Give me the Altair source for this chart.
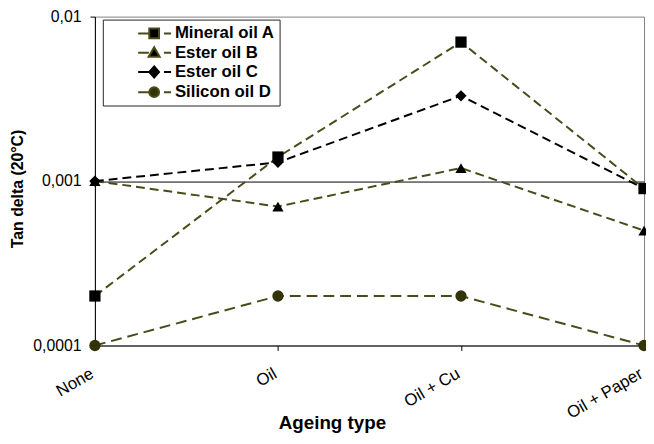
import altair as alt
import pandas as pd

ageing = ["None", "Oil", "Oil + Cu", "Oil + Paper"]
series_names = ["Mineral oil A", "Ester oil B", "Ester oil C", "Silicon oil D"]
mineral_a = [0.0002, 0.0014, 0.007, 0.0009]
ester_b = [0.001, 0.0007, 0.0012, 0.0005]
ester_c = [0.001, 0.0013, 0.0033, 0.0009]
silicon_d = [0.0001, 0.0002, 0.0002, 0.0001]
y_ticks = [0.0001, 0.001, 0.01]

line_colors = ["#4a4a1a", "#4a4a1a", "#000000", "#4a4a1a"]
marker_fills = ["#000000", "#000000", "#000000", "#33330a"]
marker_shapes = ["square", "triangle-up", "diamond", "circle"]
dashes = [[9, 5], [9, 5], [9, 5], [11, 6]]

# legend symbols: line segment, marker, short dash
lead = "M-1.8,0H-0.6M1.1,0H1.9"
legend_paths = [
    lead + "M-0.55,-0.55H0.55V0.55H-0.55Z",
    lead + "M0,-0.62L0.62,0.45H-0.62Z",
    lead + "M0,-0.62L0.55,0L0,0.62L-0.55,0Z",
    lead + "M0.55,0A0.55,0.55,0,1,1,-0.55,0A0.55,0.55,0,1,1,0.55,0Z",
]

rows = []
for name, vals in zip(series_names, [mineral_a, ester_b, ester_c, silicon_d]):
    for a, v in zip(ageing, vals):
        rows.append({"series": name, "ageing": a, "value": v})
df = pd.DataFrame(rows)

FONT = "Liberation Sans"

x_enc = alt.X(
    "ageing:N",
    sort=ageing,
    scale=alt.Scale(type="point", padding=0),
    axis=alt.Axis(
        title="Ageing type",
        titleFontSize=19,
        titleFontWeight="bold",
        titleX=240,
        titleY=84,
        titleBaseline="alphabetic",
        titleAlign="center",
        labelAngle=330,
        labelAlign="right",
        labelBaseline="top",
        labelPadding=15,
        labelOffset=-7,
        labelFontSize=17,
        tickSize=5,
        grid=False,
    ),
)
y_enc = alt.Y(
    "value:Q",
    scale=alt.Scale(type="log", domain=[0.0001, 0.01]),
    axis=alt.Axis(
        values=y_ticks,
        labelExpr="replace(toString(datum.value), '.', ',')",
        title="Tan delta (20°C)",
        titleFontSize=16,
        titleFontWeight="bold",
        titleX=-78,
        titleY=174,
        titleAngle=270,
        titleBaseline="middle",
        titleAlign="center",
        labelFontSize=16,
        labelPadding=9,
        tickSize=5,
        grid=True,
        gridColor={"condition": {"test": "datum.value > 0.0005 && datum.value < 0.005", "value": "#000000"}, "value": "transparent"},
    ),
)

base = alt.Chart(df)

lines = base.mark_line(strokeWidth=2).encode(
    x=x_enc,
    y=y_enc,
    color=alt.Color("series:N", scale=alt.Scale(domain=series_names, range=line_colors), legend=None),
    strokeDash=alt.StrokeDash("series:N", scale=alt.Scale(domain=series_names, range=dashes), legend=None),
)

points = base.mark_point(filled=True, size=130, opacity=1).encode(
    x=x_enc,
    y=y_enc,
    fill=alt.Fill("series:N", scale=alt.Scale(domain=series_names, range=marker_fills), legend=None),
    shape=alt.Shape("series:N", scale=alt.Scale(domain=series_names, range=marker_shapes), legend=None),
)

def leg():
    return alt.Legend(
        title="MMM",
        titleOrient="left",
        titleOpacity=0,
        titleFontSize=12,
        titlePadding=8,
        orient="none",
        legendX=8,
        legendY=3,
        padding=4,
        strokeColor="#222222",
        fillColor="white",
        labelFont=FONT,
        labelFontSize=17,
        labelFontWeight="bold",
        labelColor="black",
        labelOffset=11,
        rowPadding=0.5,
        symbolSize=324,
        symbolStrokeWidth=2,
        labelExpr="datum.label + '\u2003'",
    )

legend_layer = base.transform_filter("false").mark_point(filled=True, size=324, opacity=1, strokeWidth=2).encode(
    x=x_enc,
    y=y_enc,
    fill=alt.Fill("series:N", scale=alt.Scale(domain=series_names, range=marker_fills), legend=leg()),
    stroke=alt.Stroke("series:N", scale=alt.Scale(domain=series_names, range=line_colors), legend=leg()),
    shape=alt.Shape("series:N", scale=alt.Scale(domain=series_names, range=legend_paths), legend=leg()),
)

chart = (
    alt.layer(lines, points, legend_layer)
    .resolve_scale(fill="independent", shape="independent", stroke="independent")
    .properties(
        width=556,
        height=333,
        autosize=alt.AutoSizeParams(type="none"),
        padding={"left": 88, "top": 6, "right": 2, "bottom": 97},
        background="white",
    )
    .configure_view(stroke="#808080", strokeWidth=1)
    .configure_axis(
        labelFont=FONT,
        titleFont=FONT,
        labelColor="black",
        titleColor="black",
        domainColor="black",
        tickColor="black",
        domainWidth=1,
    )
)

chart.save("out.html", embed_options={"renderer": "svg", "actions": False})
